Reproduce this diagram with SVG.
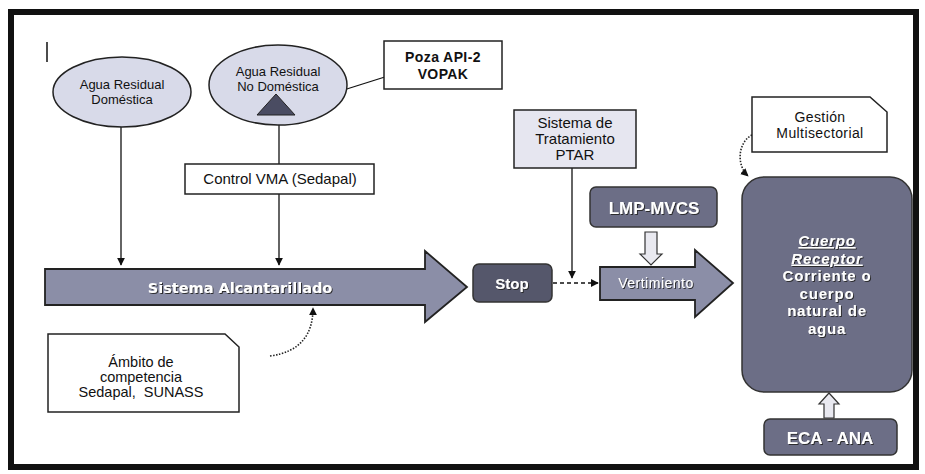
<svg xmlns="http://www.w3.org/2000/svg" width="925" height="474" viewBox="0 0 925 474">
<defs>
<style>
.t{font-family:"Liberation Sans",Arial,sans-serif;fill:#111;text-anchor:middle}
.w{font-family:"Liberation Sans",Arial,sans-serif;fill:#fff;text-anchor:middle;font-weight:bold;filter:url(#sh)}
.wn{font-family:"Liberation Sans",Arial,sans-serif;fill:#fff;text-anchor:middle;font-weight:normal;filter:url(#sh)}
.box{fill:#fff;stroke:#222;stroke-width:1.5}
.ell{fill:#d8dae9;stroke:#222;stroke-width:1.5}
.big{fill:#8b8ea7;stroke:#222;stroke-width:1.8}
.dk{fill:#6c6e86;stroke:#333;stroke-width:1.5}
.ln{fill:none;stroke:#111;stroke-width:1.3}
.dot{fill:none;stroke:#222;stroke-width:1.6;stroke-dasharray:1.5 1.5}
</style>
<marker id="ah" viewBox="0 0 10 10" refX="9" refY="5" markerWidth="8" markerHeight="8" orient="auto" markerUnits="userSpaceOnUse">
<path d="M0,0 L10,5 L0,10 z" fill="#111"/>
</marker>
<filter id="sh" x="-10%" y="-30%" width="120%" height="160%">
<feDropShadow dx="1" dy="1" stdDeviation="0.5" flood-color="#222" flood-opacity="0.9"/>
</filter>
</defs>
<rect x="0" y="0" width="925" height="474" fill="#fff"/>
<rect x="11" y="12" width="905" height="455" fill="none" stroke="#111" stroke-width="6"/>
<line x1="47" y1="42" x2="47" y2="62" stroke="#111" stroke-width="1.5"/>

<g id="connectors">
<line class="ln" x1="121" y1="127" x2="121" y2="265" marker-end="url(#ah)"/>
<line class="ln" x1="279" y1="125" x2="279" y2="164"/>
<line class="ln" x1="279" y1="194" x2="279" y2="265" marker-end="url(#ah)"/>
<line class="ln" x1="407" y1="70" x2="296" y2="105" marker-end="url(#ah)"/>
<line class="ln" x1="572" y1="168" x2="572" y2="278" marker-end="url(#ah)"/>
<line class="ln" x1="553" y1="283" x2="598" y2="283" stroke-dasharray="4 3" marker-end="url(#ah)"/>
<path class="dot" d="M270,356 C300,352 313,335 313,308" marker-end="url(#ah)"/>
<path class="dot" d="M752,135 C738,142 736,165 748,176" marker-end="url(#ah)"/>
<path d="M645,232 H657 V254 H662 L651,265 L640,254 H645 Z" fill="#e9e9f0" stroke="#333" stroke-width="1.2"/>
<path d="M824,418 V404 H819 L829,393 L839,404 H834 V418 Z" fill="#e9e9f0" stroke="#333" stroke-width="1.2"/>
</g>

<g id="n-domestica">
<ellipse class="ell" cx="122" cy="92" rx="69" ry="35"/>
<text class="t" x="122" y="89" font-size="13">Agua Residual</text>
<text class="t" x="122" y="104" font-size="13">Doméstica</text>
</g>

<g id="n-nodomestica">
<ellipse class="ell" cx="278" cy="85" rx="69" ry="40"/>
<text class="t" x="278" y="76" font-size="13">Agua Residual</text>
<text class="t" x="278" y="91" font-size="13">No Doméstica</text>
<path d="M257,115 L276,94 L295,115 Z" fill="#4a4c62" stroke="#222" stroke-width="1"/>
</g>

<g id="n-poza">
<rect class="box" x="384" y="41" width="118" height="48"/>
<text class="t" x="443" y="62" font-size="14" font-weight="bold" letter-spacing="0.4">Poza API-2</text>
<text class="t" x="443" y="79" font-size="14" font-weight="bold" letter-spacing="0.4">VOPAK</text>
</g>

<g id="n-control">
<rect class="box" x="185" y="164" width="189" height="30"/>
<text class="t" x="280" y="184" font-size="15">Control VMA (Sedapal)</text>
</g>

<g id="n-alcantarillado">
<path class="big" d="M45,269 H425 V251 L467,287 L425,322 V305 H45 Z"/>
<text class="w" x="240" y="293" font-size="14.5" style="font-family:'DejaVu Sans',sans-serif">Sistema Alcantarillado</text>
</g>

<g id="n-ambito">
<path class="box" d="M48,334 H225 L239,347 V412 H48 Z"/>
<text class="t" x="141" y="367" font-size="14.5">Ámbito de</text>
<text class="t" x="141" y="382" font-size="14.5">competencia</text>
<text class="t" x="141" y="397" font-size="14.5" xml:space="preserve">Sedapal,  SUNASS</text>
</g>

<g id="n-stop">
<rect x="473" y="264" width="79" height="38" rx="6" fill="#55576b" stroke="#333" stroke-width="1.5"/>
<text class="w" x="512" y="289" font-size="15">Stop</text>
</g>

<g id="n-ptar">
<rect x="514" y="110" width="122" height="58" fill="#e6e6f0" stroke="#222" stroke-width="1.5"/>
<text class="t" x="575" y="128" font-size="15">Sistema de</text>
<text class="t" x="575" y="144" font-size="15">Tratamiento</text>
<text class="t" x="575" y="160" font-size="15">PTAR</text>
</g>

<g id="n-lmp">
<rect class="dk" x="590" y="187" width="127" height="40" rx="6"/>
<text class="w" x="654" y="214" font-size="17">LMP-MVCS</text>
</g>

<g id="n-vertimiento">
<path class="big" d="M600,267 H695 V250 L733,283 L695,317 V300 H600 Z"/>
<text class="wn" x="656" y="288" font-size="14" letter-spacing="0.5">Vertimiento</text>
</g>

<g id="n-gestion">
<path class="box" d="M752,97 H870 L887,112 V152 H752 Z"/>
<text class="t" x="820" y="122" font-size="14" letter-spacing="0.4">Gestión</text>
<text class="t" x="820" y="138" font-size="14" letter-spacing="0.4">Multisectorial</text>
</g>

<g id="n-cuerpo">
<rect class="dk" x="742" y="177" width="170" height="215" rx="22" fill="#74778f"/>
<text class="w" x="827" y="246" font-size="15" letter-spacing="0.8" font-style="italic" text-decoration="underline">Cuerpo</text>
<text class="w" x="827" y="263.5" font-size="15" letter-spacing="0.8" font-style="italic" text-decoration="underline">Receptor</text>
<text class="w" x="827" y="281" font-size="15" letter-spacing="0.8">Corriente o</text>
<text class="w" x="827" y="298.5" font-size="15" letter-spacing="0.8">cuerpo</text>
<text class="w" x="827" y="316" font-size="15" letter-spacing="0.8">natural de</text>
<text class="w" x="827" y="333.5" font-size="15" letter-spacing="0.8">agua</text>
</g>

<g id="n-eca">
<rect class="dk" x="764" y="419" width="133" height="36" rx="6"/>
<text class="w" x="830" y="444" font-size="17">ECA - ANA</text>
</g>
</svg>
